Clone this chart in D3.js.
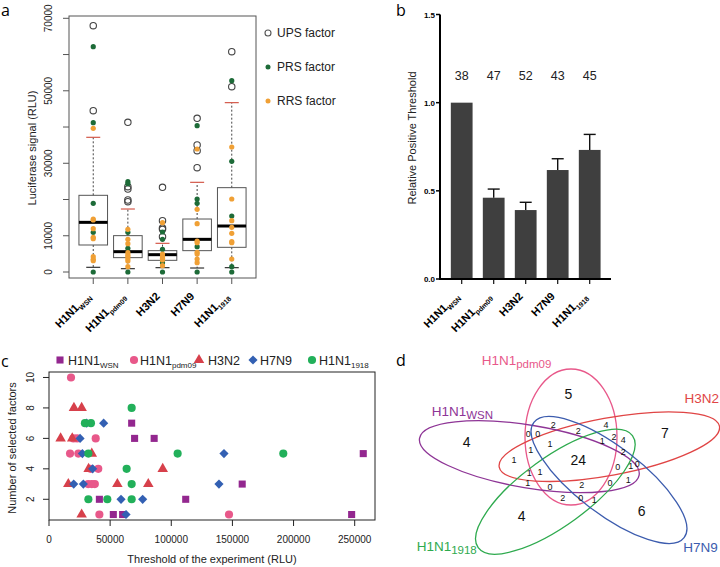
<!DOCTYPE html>
<html><head><meta charset="utf-8">
<script src="https://cdn.jsdelivr.net/npm/d3@7"></script>
<style>body{margin:0;background:#fff}svg{display:block;font-family:"Liberation Sans",Arial,sans-serif}</style>
</head><body><svg id="fig" width="720" height="567"></svg>
<script>
// ---------- shared categories ----------
const strainBase = ["H1N1", "H1N1", "H3N2", "H7N9", "H1N1"];
const strainSub = ["WSN", "pdm09", "", "", "1918"];

// ---------- panel a : box plots (RLU) ----------
const boxQ1 = [7450, 3960, 3220, 5890, 6810];
const boxMedian = [13700, 5610, 4780, 9010, 12690];
const boxQ3 = [21160, 10030, 5890, 14620, 23270];
const whiskerLow = [1290, 920, 1200, 1100, 1200];
const whiskerHigh = [37160, 17380, 7910, 24740, 46730];
const upsValues = [
  [67970, 44520],
  [41300, 23550, 22900, 19870, 19410],
  [23360, 14170, 12140, 11770, 9750],
  [42400, 35050, 33480, 28790],
  [60800, 51140]
];
const prsValues = [
  [62180, 41210, 18950, 10950, 0],
  [24930, 24380, 10950, 6530, 0],
  [11040, 9010, 6250, 2580, 0],
  [40380, 20140, 18950, 6990, 0],
  [52800, 30540, 15450, 1470, 0]
];
const rrsValues = [
  [39640, 14620, 14350, 11960, 9570, 9200, 4230, 3500, 3130],
  [11770, 9010, 7820, 5330, 4690, 4230, 3590, 3040, 1470],
  [13610, 4970, 4230, 3770, 3310, 1750],
  [33940, 17290, 13340, 8550, 8090, 5430, 4970, 3590, 2580],
  [34490, 20140, 14170, 12330, 10670, 8370, 8090, 3590]
];
const aTicks = [0, 10000, 20000, 30000, 40000, 50000, 60000, 70000];
const aTickLabels = ["0", "10000", "", "30000", "", "50000", "", "70000"];
const aLegend = ["UPS factor", "PRS factor", "RRS factor"];

// ---------- panel b : relative threshold ----------
const relThreshold = [1.0, 0.461, 0.391, 0.618, 0.732];
const relErrorTop = [null, 0.510, 0.435, 0.682, 0.820];
const experimentCounts = ["38", "47", "52", "43", "45"];
const bTicks = [0, 0.5, 1.0, 1.5];

// ---------- panel c : scatter (threshold, #factors) ----------
const cWSN = [[67600,7],[70000,6],[86000,6],[257000,5],[41200,2],[111800,2],[158000,3],[52600,1],[60200,1],[247500,1]];
const cPdm09 = [[18000,10],[20000,6],[23000,6],[38200,6],[17200,5],[24000,5],[34000,4],[40300,4],[32000,3],[35000,3],[37500,3],[41200,1],[147200,1]];
const cH3N2 = [[20400,8],[26700,8],[9500,6],[19000,6],[35000,5],[32400,4],[93000,4],[15800,3],[55900,3],[81200,3],[26700,1]];
const cH7N9 = [[30800,7],[44700,7],[25400,6],[27300,5],[143100,5],[35700,4],[20200,3],[28100,3],[139000,3],[58900,2],[76600,2],[63000,1]];
const c1918 = [[67600,8],[29400,7],[34300,7],[32200,5],[105200,5],[191600,5],[63500,4],[67600,3],[32200,2],[47700,2],[67600,2]];
const cXTicks = [0, 50000, 100000, 150000, 200000, 250000];
const cYTicks = [2, 4, 6, 8, 10];

// ---------- panel d : Venn counts ----------
const vennCounts = [5,4,7,4,6,24, 0,0,2,2,4,2,4,1,1,1,2,1,0,1,0,1,1,1,0,2,0,1,2,0,1];

// ================= drawing =================
const svg = d3.select("#fig");
const colUPS = "#444", colPRS = "#1d6b38", colRRS = "#f0a035";
const seriesColors = ["#93278f", "#e8588a", "#d7404b", "#3360b3", "#22b05a"];

function labelWithSub(sel, base, sub, size, subSize, dy) {
  sel.append("tspan").text(base);
  if (sub) sel.append("tspan").attr("dy", dy).style("font-size", subSize + "px").text(sub);
}
function panelLetter(x, y, t) {
  svg.append("text").attr("x", x).attr("y", y).text(t)
    .style("font-family", "'Open Sans',sans-serif").style("font-size", "16px");
}

// ----- panel a -----
{
  const x = d3.scaleLinear().domain([0.3, 5.7]).range([69, 256]);
  const y = d3.scaleLinear().domain([0, 70000]).range([272, 18.3]);
  const g = svg.append("g");
  g.append("rect").attr("x", 69).attr("y", 16).attr("width", 187).attr("height", 262)
    .attr("fill", "none").attr("stroke", "#555");
  aTicks.forEach((v, i) => {
    g.append("line").attr("x1", 63).attr("x2", 69).attr("y1", y(v)).attr("y2", y(v)).attr("stroke", "#555");
    if (aTickLabels[i]) g.append("text").attr("transform", `translate(52,${y(v)}) rotate(-90)`)
      .attr("text-anchor", "middle").style("font-size", "10px").attr("fill", "#222").text(aTickLabels[i]);
  });
  g.append("text").attr("transform", "translate(36,148) rotate(-90)").attr("text-anchor", "middle")
    .style("font-size", "11px").attr("fill", "#222").text("Luciferase signal (RLU)");
  const hw = 14.3, cw = 7;
  strainBase.forEach((b, i) => {
    const cx = x(i + 1);
    g.append("line").attr("x1", cx).attr("x2", cx).attr("y1", 278).attr("y2", 284).attr("stroke", "#555");
    g.append("line").attr("x1", cx).attr("x2", cx).attr("y1", y(boxQ1[i])).attr("y2", y(whiskerLow[i]))
      .attr("stroke", "#444").attr("stroke-dasharray", "2,2");
    g.append("line").attr("x1", cx).attr("x2", cx).attr("y1", y(boxQ3[i])).attr("y2", y(whiskerHigh[i]))
      .attr("stroke", "#444").attr("stroke-dasharray", "2,2");
    g.append("line").attr("x1", cx - cw).attr("x2", cx + cw).attr("y1", y(whiskerLow[i])).attr("y2", y(whiskerLow[i]))
      .attr("stroke", "#333").attr("stroke-width", 1.2);
    g.append("line").attr("x1", cx - cw).attr("x2", cx + cw).attr("y1", y(whiskerHigh[i])).attr("y2", y(whiskerHigh[i]))
      .attr("stroke", "#d4594a").attr("stroke-width", 1.2);
    g.append("rect").attr("x", cx - hw).attr("width", 2 * hw).attr("y", y(boxQ3[i]))
      .attr("height", y(boxQ1[i]) - y(boxQ3[i])).attr("fill", "none").attr("stroke", "#555");
    g.append("line").attr("x1", cx - hw).attr("x2", cx + hw).attr("y1", y(boxMedian[i])).attr("y2", y(boxMedian[i]))
      .attr("stroke", "#000").attr("stroke-width", 3);
    upsValues[i].forEach(v => g.append("circle").attr("cx", cx).attr("cy", y(v)).attr("r", 3.2)
      .attr("fill", "none").attr("stroke", colUPS).attr("stroke-width", 1.1));
    prsValues[i].forEach(v => g.append("circle").attr("cx", cx).attr("cy", y(v)).attr("r", 2.6).attr("fill", colPRS));
    rrsValues[i].forEach(v => g.append("circle").attr("cx", cx).attr("cy", y(v)).attr("r", 2.6).attr("fill", colRRS));
    const t = g.append("text").attr("transform", `translate(${cx - 2},297) rotate(-45)`).attr("text-anchor", "end")
      .style("font-size", "11px").style("font-weight", "bold");
    labelWithSub(t, b, strainSub[i], 11, 7, 3);
  });
  const ly = [33, 67, 101];
  aLegend.forEach((t, i) => {
    const c = g.append("circle").attr("cx", 268).attr("cy", ly[i]);
    if (i === 0) c.attr("r", 3).attr("fill", "none").attr("stroke", "#555").attr("stroke-width", 1.1);
    else c.attr("r", 2.5).attr("fill", i === 1 ? colPRS : colRRS);
    g.append("text").attr("x", 277).attr("y", ly[i] + 4.3).style("font-size", "12px").attr("fill", "#222").text(t);
  });
  panelLetter(1, 16, "a");
}

// ----- panel b -----
{
  const x = d3.scaleBand().domain(d3.range(5)).range([445.7, 605.7]).paddingInner(0.32).paddingOuter(0.16);
  const y = d3.scaleLinear().domain([0, 1.5]).range([279, 14.5]);
  const g = svg.append("g");
  relThreshold.forEach((v, i) => {
    g.append("rect").attr("x", x(i)).attr("width", x.bandwidth()).attr("y", y(v)).attr("height", y(0) - y(v))
      .attr("fill", "#3f3f3f");
    const cx = x(i) + x.bandwidth() / 2;
    if (relErrorTop[i] !== null) {
      g.append("line").attr("x1", cx).attr("x2", cx).attr("y1", y(v)).attr("y2", y(relErrorTop[i])).attr("stroke", "#111").attr("stroke-width", 1.4);
      g.append("line").attr("x1", cx - 6).attr("x2", cx + 6).attr("y1", y(relErrorTop[i])).attr("y2", y(relErrorTop[i])).attr("stroke", "#111").attr("stroke-width", 1.4);
    }
    g.append("text").attr("x", cx).attr("y", 80).attr("text-anchor", "middle").style("font-size", "12.5px").attr("fill", "#222").text(experimentCounts[i]);
    g.append("line").attr("x1", cx).attr("x2", cx).attr("y1", 279).attr("y2", 284).attr("stroke", "#111").attr("stroke-width", 1.2);
    const t = g.append("text").attr("transform", `translate(${cx - 2},297) rotate(-45)`).attr("text-anchor", "end")
      .style("font-size", "11px").style("font-weight", "bold");
    labelWithSub(t, strainBase[i], strainSub[i], 11, 7, 3);
  });
  g.append("line").attr("x1", 440).attr("x2", 440).attr("y1", y(1.5)).attr("y2", 280).attr("stroke", "#000").attr("stroke-width", 2);
  g.append("line").attr("x1", 439).attr("x2", 611).attr("y1", 279).attr("y2", 279).attr("stroke", "#000").attr("stroke-width", 2);
  bTicks.forEach(v => {
    g.append("line").attr("x1", 436).attr("x2", 440).attr("y1", y(v)).attr("y2", y(v)).attr("stroke", "#000").attr("stroke-width", 1.5);
    g.append("text").attr("x", 435).attr("y", y(v) + 3).attr("text-anchor", "end").style("font-size", "8px")
      .style("font-weight", "bold").text(d3.format(".1f")(v));
  });
  g.append("text").attr("transform", "translate(416,138) rotate(-90)").attr("text-anchor", "middle")
    .style("font-size", "11px").attr("fill", "#222").text("Relative Positive Threshold");
  panelLetter(396, 16, "b");
}

// ----- panel c -----
{
  const x = d3.scaleLinear().domain([0, 266600]).range([49, 375]);
  const y = d3.scaleLinear().domain([0.64, 10.36]).range([520, 372]);
  const g = svg.append("g");
  g.append("rect").attr("x", 49).attr("y", 372).attr("width", 326).attr("height", 148).attr("fill", "none").attr("stroke", "#222");
  cXTicks.forEach(v => {
    g.append("line").attr("x1", x(v)).attr("x2", x(v)).attr("y1", 520).attr("y2", 526).attr("stroke", "#222");
    g.append("text").attr("x", x(v)).attr("y", 543).attr("text-anchor", "middle").style("font-size", "10px").attr("fill", "#222").text(v);
  });
  cYTicks.forEach(v => {
    g.append("line").attr("x1", 43).attr("x2", 49).attr("y1", y(v)).attr("y2", y(v)).attr("stroke", "#222");
    g.append("text").attr("transform", `translate(34,${y(v)}) rotate(-90)`).attr("text-anchor", "middle").style("font-size", "10px").attr("fill", "#222").text(v);
  });
  g.append("text").attr("x", 212).attr("y", 563).attr("text-anchor", "middle").style("font-size", "11px").attr("fill", "#222").text("Threshold of the experiment (RLU)");
  g.append("text").attr("transform", "translate(16,448) rotate(-90)").attr("text-anchor", "middle").style("font-size", "11px").attr("fill", "#222").text("Number of selected factors");
  const series = [cWSN, cPdm09, cH3N2, cH7N9, c1918];
  const shapes = [
    d3.symbol(d3.symbolSquare, 50), d3.symbol(d3.symbolCircle, 52), d3.symbol(d3.symbolTriangle, 48),
    d3.symbol(d3.symbolSquare, 42), d3.symbol(d3.symbolCircle, 52)
  ];
  const rot = [0, 0, 0, 45, 0];
  series.forEach((s, k) => {
    g.selectAll(null).data(s).enter().append("path").attr("d", shapes[k]())
      .attr("transform", d => `translate(${x(d[0])},${y(d[1])}) rotate(${rot[k]})`).attr("fill", seriesColors[k]);
  });
  const lx = [60, 134, 199, 253, 312], tx = [68, 140, 208, 260, 319];
  strainBase.forEach((b, k) => {
    g.append("path").attr("d", shapes[k]()).attr("transform", `translate(${lx[k]},360) rotate(${rot[k]})`).attr("fill", seriesColors[k]);
    const t = g.append("text").attr("x", tx[k]).attr("y", 364.5).style("font-size", "12.5px").attr("fill", "#222");
    labelWithSub(t, b, strainSub[k], 12.5, 8, 3);
  });
  panelLetter(1, 367, "c");
}

// ----- panel d -----
{
  // Venn layout in a local 1080 x 831 design grid, mapped to the panel by scales
  const vx = d3.scaleLinear().domain([0, 1080]).range([360, 720]);
  const vy = d3.scaleLinear().domain([0, 831]).range([290, 567]);
  const vs = d3.scaleLinear().domain([0, 1080]).range([0, 360]);
  const g = svg.append("g");
  const ellipses = [
    {c: "#e8588a", cx: 633, cy: 441, rx: 138, ry: 204, r: 0},
    {c: "#e04545", cx: 748, cy: 470, rx: 336, ry: 86, r: -10.5},
    {c: "#8e3596", cx: 508, cy: 500, rx: 334, ry: 94, r: 9.5},
    {c: "#2eaa4e", cx: 586, cy: 605, rx: 286, ry: 102, r: -36},
    {c: "#3c5cae", cx: 747, cy: 570, rx: 284, ry: 100, r: 37.5}
  ];
  ellipses.forEach(e => {
    g.append("ellipse").attr("transform", `translate(${vx(e.cx)},${vy(e.cy)}) rotate(${e.r})`)
      .attr("rx", vs(e.rx)).attr("ry", vs(e.ry)).attr("fill", "none").attr("stroke", e.c).attr("stroke-width", 1.3);
  });
  const labels = [
    {b: "H1N1", s: "pdm09", x: 365, y: 225, c: "#e8588a", a: "start"},
    {b: "H3N2", s: "", x: 1077, y: 340, c: "#e04545", a: "end"},
    {b: "H1N1", s: "WSN", x: 215, y: 378, c: "#8e3596", a: "start"},
    {b: "H1N1", s: "1918", x: 170, y: 782, c: "#2eaa4e", a: "start"},
    {b: "H7N9", s: "", x: 970, y: 785, c: "#3c5cae", a: "start"}
  ];
  labels.forEach(l => {
    const t = g.append("text").attr("x", vx(l.x)).attr("y", vy(l.y)).attr("text-anchor", l.a)
      .style("font-size", "13.5px").attr("fill", l.c);
    labelWithSub(t, l.b, l.s, 13.5, 11.5, 3);
  });
  const pos = [[625,312],[320,455],[915,430],[485,678],[845,662],[655,510],
    [505,430],[533,430],[580,405],[655,422],[738,405],[762,440],[790,450],[727,453],[570,460],[512,478],
    [790,485],[462,510],[773,530],[812,528],[832,520],[508,548],[540,545],[503,578],[570,590],[665,583],
    [750,578],[805,568],[608,622],[662,622],[703,630]];
  vennCounts.forEach((n, i) => {
    g.append("text").attr("x", vx(pos[i][0])).attr("y", vy(pos[i][1])).attr("dy", "0.36em").attr("text-anchor", "middle")
      .style("font-size", i < 6 ? "14px" : "9px").attr("fill", "#111").text(n);
  });
  panelLetter(396, 366, "d");
}
</script></body></html>
